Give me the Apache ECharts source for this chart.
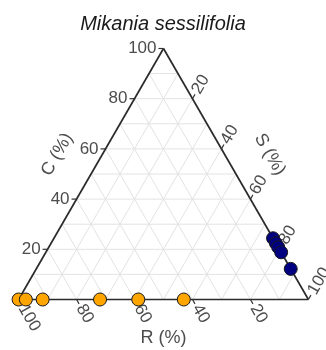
<!DOCTYPE html>
<html>
<head>
<meta charset="utf-8">
<script src="https://cdn.jsdelivr.net/npm/echarts@6/dist/echarts.min.js"></script>
<style>
  html, body { margin: 0; padding: 0; background: #ffffff; }
  #chart { width: 326px; height: 350px; }
</style>
</head>
<body>
<div id="chart"></div>
<script>
// Ternary plot of R / S / C strategy shares (percent)
const titleText = 'Mikania sessilifolia';
const tickValues = [20, 40, 60, 80, 100];
const gridValues = [10, 20, 30, 40, 50, 60, 70, 80, 90];
const axisTitleR = 'R (%)';
const axisTitleS = 'S (%)';
const axisTitleC = 'C (%)';

// group on the R–S edge (no C share)
const groupA_R = [100, 97.5, 91.7, 71.9, 58.7, 43.0];
const groupA_S = [0, 2.5, 8.3, 28.1, 41.3, 57.0];
const groupA_C = [0, 0, 0, 0, 0, 0];

// group on the S–C edge (no R share)
const groupB_R = [0, 0, 0, 0, 0];
const groupB_S = [75.6, 77.6, 79.2, 81.2, 87.8];
const groupB_C = [24.4, 22.4, 20.8, 18.8, 12.2];

const H = Math.sqrt(3) / 2;
// barycentric (R at left, S at right, C at top) -> cartesian data units
function toXY(r, s, c) {
  const t = r + s + c;
  return [(s + c / 2) / t * 100, c / t * 100 * H];
}

const FONT = '"Liberation Sans", Arial, sans-serif';

// straight segments: triangle frame + 10% guide lines
const segments = [];
gridValues.forEach(v => {
  segments.push({ a: toXY(100 - v, 0, v), b: toXY(0, 100 - v, v), kind: 'grid' });
  segments.push({ a: toXY(100 - v, v, 0), b: toXY(0, v, 100 - v), kind: 'grid' });
  segments.push({ a: toXY(v, 100 - v, 0), b: toXY(v, 0, 100 - v), kind: 'grid' });
});
segments.push({ a: toXY(100, 0, 0), b: toXY(0, 100, 0), kind: 'edge' });
segments.push({ a: toXY(0, 100, 0), b: toXY(0, 0, 100), kind: 'edge' });
segments.push({ a: toXY(0, 0, 100), b: toXY(100, 0, 0), kind: 'edge' });

// tick marks and their labels, with pixel direction and text rotation per axis
const S3 = Math.sqrt(3) / 2;
const ticks = [];
tickValues.forEach(t => {
  ticks.push({ p: toXY(100 - t, 0, t), dir: [-1, 0], rot: 0, align: 'right', text: String(t) });
  ticks.push({ p: toXY(0, t, 100 - t), dir: [0.5, -S3], rot: Math.PI / 3, align: 'left', text: String(t) });
  ticks.push({ p: toXY(t, 100 - t, 0), dir: [0.5, S3], rot: -Math.PI / 3, align: 'left', text: String(t) });
});

// axis titles placed off each edge's midpoint along its outward normal
const axisTitles = [
  { p: toXY(50, 0, 50), dir: [-S3, -0.5], rot: Math.PI / 3, text: axisTitleC },
  { p: toXY(0, 50, 50), dir: [S3, -0.5], rot: -Math.PI / 3, text: axisTitleS },
  { p: toXY(50, 50, 0), dir: [0, 1], rot: 0, text: axisTitleR }
];

const ptsA = groupA_R.map((r, i) => toXY(r, groupA_S[i], groupA_C[i]));
const ptsB = groupB_R.map((r, i) => toXY(r, groupB_S[i], groupB_C[i]));

const chart = echarts.init(document.getElementById('chart'), null, { renderer: 'canvas' });

chart.setOption({
  animation: false,
  backgroundColor: '#ffffff',
  title: {
    text: titleText,
    left: 'center',
    top: 9,
    textStyle: { fontStyle: 'italic', fontWeight: 'normal', fontSize: 20, color: '#1a1a1a', fontFamily: FONT }
  },
  grid: { left: 18.6, top: 48.5, width: 289.8, height: 251 },
  xAxis: { type: 'value', min: 0, max: 100, show: false },
  yAxis: { type: 'value', min: 0, max: 100 * H, show: false },
  series: [
    {
      type: 'custom',
      clip: false,
      silent: true,
      z: 1,
      data: segments.map(s => [s.a[0], s.a[1], s.b[0], s.b[1]]),
      encode: { x: [0, 2], y: [1, 3] },
      renderItem: function (params, api) {
        const seg = segments[params.dataIndex];
        const p1 = api.coord([api.value(0), api.value(1)]);
        const p2 = api.coord([api.value(2), api.value(3)]);
        const edge = seg.kind === 'edge';
        return {
          type: 'line',
          z2: edge ? 10 : 1,
          shape: { x1: p1[0], y1: p1[1], x2: p2[0], y2: p2[1] },
          style: { stroke: edge ? '#2b2b2b' : '#e3e3e3', lineWidth: edge ? 1.7 : 1 }
        };
      }
    },
    {
      type: 'custom',
      clip: false,
      silent: true,
      z: 2,
      data: ticks.map(t => [t.p[0], t.p[1]]),
      encode: { x: 0, y: 1 },
      renderItem: function (params, api) {
        const tk = ticks[params.dataIndex];
        const p = api.coord([api.value(0), api.value(1)]);
        const tl = 5, gap = 7;
        return {
          type: 'group',
          children: [
            {
              type: 'line',
              shape: { x1: p[0], y1: p[1], x2: p[0] + tk.dir[0] * tl, y2: p[1] + tk.dir[1] * tl },
              style: { stroke: '#333333', lineWidth: 1.2 }
            },
            {
              type: 'text',
              x: p[0] + tk.dir[0] * gap,
              y: p[1] + tk.dir[1] * gap,
              rotation: tk.rot,
              style: {
                text: tk.text, x: 0, y: 0,
                align: tk.align, verticalAlign: 'middle',
                font: '17px ' + FONT, fill: '#4d4d4d'
              }
            }
          ]
        };
      }
    },
    {
      type: 'custom',
      clip: false,
      silent: true,
      z: 2,
      data: axisTitles.map(t => [t.p[0], t.p[1]]),
      encode: { x: 0, y: 1 },
      renderItem: function (params, api) {
        const at = axisTitles[params.dataIndex];
        const p = api.coord([api.value(0), api.value(1)]);
        const off = 39;
        return {
          type: 'text',
          x: p[0] + at.dir[0] * off,
          y: p[1] + at.dir[1] * off,
          rotation: at.rot,
          style: {
            text: at.text, x: 0, y: 0,
            align: 'center', verticalAlign: 'middle',
            font: '18px ' + FONT, fill: '#4d4d4d'
          }
        };
      }
    },
    {
      type: 'scatter',
      z: 5,
      symbol: 'circle',
      symbolSize: 13,
      data: ptsA,
      itemStyle: { color: '#FFA500', borderColor: '#1a1a1a', borderWidth: 1, opacity: 1 }
    },
    {
      type: 'scatter',
      z: 5,
      symbol: 'circle',
      symbolSize: 13,
      data: ptsB,
      itemStyle: { color: '#000080', borderColor: '#1a1a1a', borderWidth: 1, opacity: 1 }
    }
  ]
});
</script>
</body>
</html>
